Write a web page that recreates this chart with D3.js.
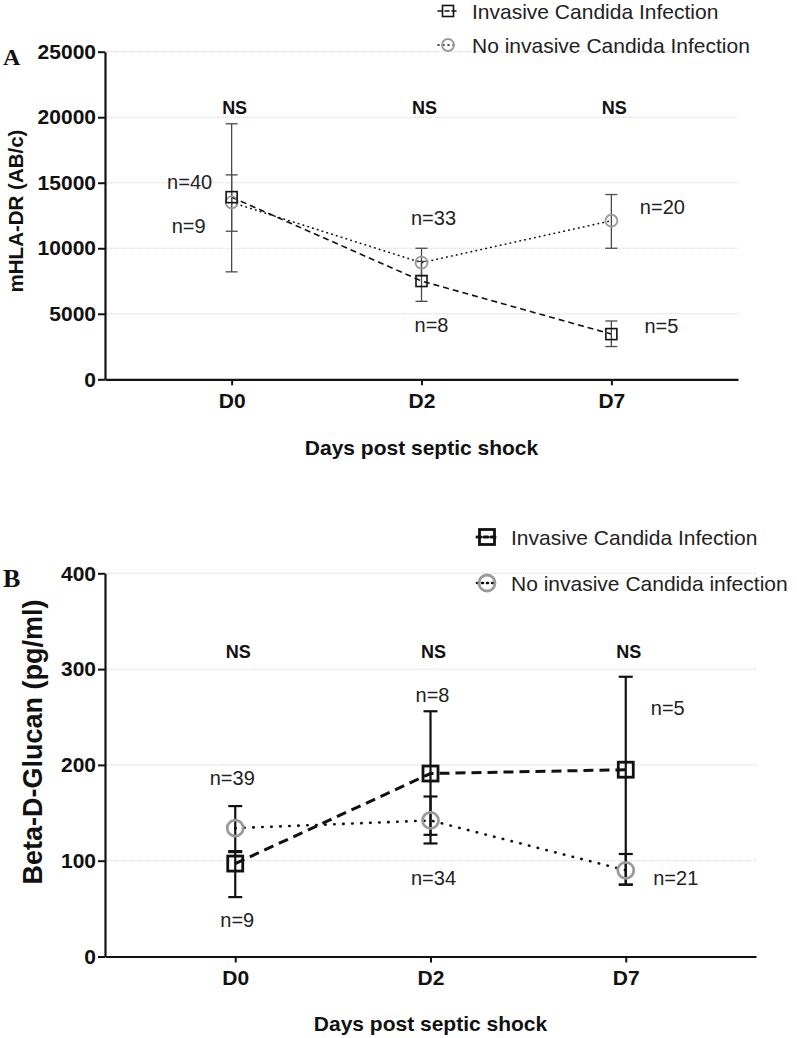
<!DOCTYPE html>
<html>
<head>
<meta charset="utf-8">
<script src="https://d3js.org/d3.v7.min.js"></script>
<style>
  body { margin: 0; background: #fff; }
  text { font-family: "Liberation Sans", Arial, Helvetica, sans-serif; fill: #111; }
  .tick text { font-weight: bold; font-size: 21px; }
  .grid { stroke: #c8c8c8; stroke-width: 0.8px; stroke-dasharray: 1,1; }
  .panel-letter { font-family: "Liberation Serif", "Times New Roman", serif; font-weight: bold; }
</style>
</head>
<body>
<script>
// categories
const days = ["D0", "D2", "D7"];

// panel A : mHLA-DR (AB/c)
const hlaTicks = [0, 5000, 10000, 15000, 20000, 25000];
const hlaInvMean = [13900, 7500, 3450];
const hlaInvLow  = [8200, 5950, 2500];
const hlaInvHigh = [19500, 9000, 4450];
const hlaNoMean  = [13500, 8900, 12100];
const hlaNoLow   = [11300, 7900, 10000];
const hlaNoHigh  = [15600, 10000, 14100];
const hlaInvN = ["n=9", "n=8", "n=5"];
const hlaNoN  = ["n=40", "n=33", "n=20"];

// panel B : Beta-D-Glucan (pg/ml)
const bdgTicks = [0, 100, 200, 300, 400];
const bdgInvMean = [97, 191, 195];
const bdgInvLow  = [62, 127, 75];
const bdgInvHigh = [109, 256, 292];
const bdgNoMean  = [134, 142, 90];
const bdgNoLow   = [110, 118, 75];
const bdgNoHigh  = [157, 167, 107];
const bdgInvN = ["n=9", "n=8", "n=5"];
const bdgNoN  = ["n=39", "n=34", "n=21"];

const svg = d3.select("body").append("svg")
    .attr("width", 797).attr("height", 1038);

function series(mean, low, high, n) {
  return days.map((d, i) => ({day: d, v: mean[i], lo: low[i], hi: high[i], n: n[i]}));
}

function drawPanel(p) {
  const g = svg.append("g");
  const x = d3.scalePoint().domain(days).range([105, p.right]).padding(0.667);
  const y = d3.scaleLinear().domain(p.domain).range([p.bottom, p.top]);

  // grid lines
  g.selectAll("line.grid").data(p.ticks.filter(t => t > 0)).join("line")
    .attr("class", "grid")
    .attr("x1", 105).attr("x2", p.right)
    .attr("y1", d => y(d)).attr("y2", d => y(d));

  // axes
  const ya = g.append("g").attr("transform", "translate(105,0)")
    .call(d3.axisLeft(y).tickValues(p.ticks).tickFormat(d3.format("d"))
      .tickSize(7).tickSizeOuter(0).tickPadding(2));
  const xa = g.append("g").attr("transform", `translate(0,${p.bottom})`)
    .call(d3.axisBottom(x).tickSize(6).tickSizeOuter(0).tickPadding(8));
  [ya, xa].forEach(a => {
    a.select(".domain").attr("stroke", "#111").attr("stroke-width", 2.2);
    a.selectAll(".tick line").attr("stroke", "#111").attr("stroke-width", 2);
    a.selectAll(".tick text").attr("fill", "#111");
  });

  // axis titles
  g.append("text")
    .attr("transform", `translate(${p.ytitleX},${p.ytitleY}) rotate(-90)`)
    .attr("text-anchor", "middle").attr("dominant-baseline", "central")
    .style("font-weight", "bold").style("font-size", p.ytitleSize + "px")
    .text(p.ytitle);
  g.append("text")
    .attr("x", (105 + p.right) / 2).attr("y", p.xtitleY)
    .attr("text-anchor", "middle").attr("dominant-baseline", "central")
    .style("font-weight", "bold").style("font-size", "21px")
    .text("Days post septic shock");

  // panel letter
  g.append("text").attr("class", "panel-letter")
    .attr("x", 3).attr("y", p.letterY)
    .style("font-size", p.letterSize + "px").text(p.letter);

  // NS labels
  g.selectAll("text.ns").data(days).join("text")
    .attr("x", d => x(d) + 3).attr("y", p.nsY)
    .attr("text-anchor", "middle").attr("dominant-baseline", "central")
    .style("font-weight", "bold").style("font-size", "18px")
    .text("NS");

  const line = d3.line().x(d => x(d.day)).y(d => y(d.v));
  const st = p.style;

  // connecting lines
  g.append("path").datum(p.no).attr("d", line)
    .attr("fill", "none").attr("stroke", "#111")
    .attr("stroke-width", st.dotW).attr("stroke-dasharray", st.dotDash)
    .attr("stroke-linecap", "round");
  g.append("path").datum(p.inv).attr("d", line)
    .attr("fill", "none").attr("stroke", "#111")
    .attr("stroke-width", st.dashW).attr("stroke-dasharray", st.dashDash);

  // error bars
  [p.inv, p.no].forEach(s => {
    const eb = g.append("g").attr("stroke", st.errColor).attr("stroke-width", st.errW);
    eb.selectAll("line.v").data(s).join("line")
      .attr("x1", d => x(d.day)).attr("x2", d => x(d.day))
      .attr("y1", d => y(d.lo)).attr("y2", d => y(d.hi));
    eb.selectAll("line.lo").data(s).join("line")
      .attr("x1", d => x(d.day) - st.cap).attr("x2", d => x(d.day) + st.cap)
      .attr("y1", d => y(d.lo)).attr("y2", d => y(d.lo));
    eb.selectAll("line.hi").data(s).join("line")
      .attr("x1", d => x(d.day) - st.cap).attr("x2", d => x(d.day) + st.cap)
      .attr("y1", d => y(d.hi)).attr("y2", d => y(d.hi));
  });

  // markers
  g.selectAll("circle.no").data(p.no).join("circle")
    .attr("cx", d => x(d.day)).attr("cy", d => y(d.v)).attr("r", st.r)
    .attr("fill", "none").attr("stroke", "#9a9a9a").attr("stroke-width", st.circW);
  g.selectAll("rect.inv").data(p.inv).join("rect")
    .attr("x", d => x(d.day) - st.sq / 2).attr("y", d => y(d.v) - st.sq / 2)
    .attr("width", st.sq).attr("height", st.sq)
    .attr("fill", "none").attr("stroke", "#111").attr("stroke-width", st.sqW);

  // n labels
  [[p.inv, p.invOff], [p.no, p.noOff]].forEach(([s, off]) => {
    g.selectAll(null).data(s).join("text")
      .attr("x", (d, i) => x(d.day) + off[i][0]).attr("y", (d, i) => off[i][1])
      .attr("text-anchor", "middle").attr("dominant-baseline", "central")
      .style("font-size", "20px").style("fill", "#222")
      .text(d => d.n);
  });

  // legend
  const lg = g.append("g");
  p.legend.forEach((l, i) => {
    const ly = p.legendY[i], lx = p.legendX;
    lg.append("line").attr("x1", lx - 10).attr("x2", lx + 10).attr("y1", ly).attr("y2", ly)
      .attr("stroke", "#111").attr("stroke-width", l.inv ? st.dashW : st.dotW)
      .attr("stroke-dasharray", l.inv ? "4,3" : "1,4").attr("stroke-linecap", "round");
    if (l.inv) {
      lg.append("rect").attr("x", lx - st.sq / 2).attr("y", ly - st.sq / 2)
        .attr("width", st.sq).attr("height", st.sq)
        .attr("fill", "none").attr("stroke", "#111").attr("stroke-width", st.sqW);
    } else {
      lg.append("circle").attr("cx", lx).attr("cy", ly).attr("r", st.r)
        .attr("fill", "none").attr("stroke", "#9a9a9a").attr("stroke-width", st.circW);
    }
    lg.append("text").attr("x", lx + 24).attr("y", ly)
      .attr("dominant-baseline", "central")
      .style("font-size", "21px").style("fill", "#222")
      .text(l.label);
  });
}

drawPanel({
  letter: "A", letterY: 65, letterSize: 24,
  domain: [0, 25000], ticks: hlaTicks,
  top: 51.7, bottom: 379.3, right: 738,
  ytitle: "mHLA-DR (AB/c)", ytitleX: 15, ytitleY: 211, ytitleSize: 20.5,
  xtitleY: 447, nsY: 108,
  inv: series(hlaInvMean, hlaInvLow, hlaInvHigh, hlaInvN),
  no: series(hlaNoMean, hlaNoLow, hlaNoHigh, hlaNoN),
  invOff: [[-43, 226], [10, 325], [50, 326]],
  noOff: [[-42, 182], [12, 218], [51, 207]],
  legend: [{inv: true, label: "Invasive Candida Infection"},
           {inv: false, label: "No invasive Candida Infection"}],
  legendX: 448, legendY: [11, 45],
  style: {errColor: "#4a4a4a", errW: 1.3, cap: 6, r: 6, circW: 1.8, sq: 11, sqW: 1.6,
          dashW: 1.6, dashDash: "6,4", dotW: 1.6, dotDash: "0.5,4.5"}
});

drawPanel({
  letter: "B", letterY: 587, letterSize: 26,
  domain: [0, 400], ticks: bdgTicks,
  top: 573.3, bottom: 956.5, right: 756,
  ytitle: "Beta-D-Glucan (pg/ml)", ytitleX: 33, ytitleY: 742, ytitleSize: 27,
  xtitleY: 1023, nsY: 652,
  inv: series(bdgInvMean, bdgInvLow, bdgInvHigh, bdgInvN),
  no: series(bdgNoMean, bdgNoLow, bdgNoHigh, bdgNoN),
  invOff: [[2, 920], [2, 695], [42, 708]],
  noOff: [[-3, 778], [3, 878], [50, 878]],
  legend: [{inv: true, label: "Invasive Candida Infection"},
           {inv: false, label: "No invasive Candida infection"}],
  legendX: 487, legendY: [537, 583],
  style: {errColor: "#111", errW: 2.2, cap: 7, r: 8, circW: 2.8, sq: 15, sqW: 2.8,
          dashW: 3, dashDash: "10,6", dotW: 2.6, dotDash: "0.5,8.5"}
});
</script>
</body>
</html>
